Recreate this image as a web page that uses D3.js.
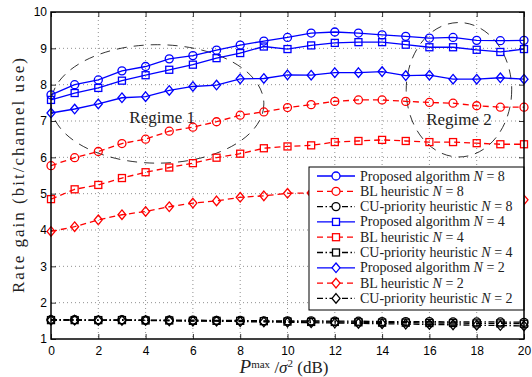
<!DOCTYPE html>
<html>
<head>
<meta charset="utf-8">
<title>Rate gain vs Pmax</title>
<style>
body { margin: 0; background: #fff; }
.axis text { font: 12px "Liberation Sans", Arial, sans-serif; fill: #000; }
.axis .domain { display: none; }
.lbl { font-family: "Liberation Serif", serif; fill: #222; }
</style>
</head>
<body>
<svg width="532" height="377"></svg>
<script src="https://d3js.org/d3.v7.min.js"></script>
<script>

// P^max / sigma^2 in dB
var snrDb = [0,1,2,3,4,5,6,7,8,9,10,11,12,13,14,15,16,17,18,19,20];

var propN8 = [7.72,8.00,8.13,8.38,8.50,8.71,8.80,8.95,9.09,9.20,9.30,9.42,9.45,9.42,9.37,9.33,9.28,9.30,9.22,9.21,9.22];
var propN4 = [7.58,7.77,7.91,8.11,8.26,8.41,8.55,8.73,8.87,9.05,8.98,9.08,9.15,9.17,9.17,9.10,9.03,9.03,8.96,8.90,8.98];
var propN2 = [7.22,7.33,7.47,7.64,7.67,7.84,7.95,7.99,8.16,8.17,8.27,8.26,8.33,8.33,8.36,8.25,8.26,8.15,8.15,8.19,8.15];

var blN8 = [5.77,5.99,6.16,6.38,6.50,6.72,6.83,6.98,7.16,7.25,7.37,7.45,7.54,7.58,7.58,7.54,7.51,7.49,7.42,7.38,7.38];
var blN4 = [4.85,5.12,5.24,5.43,5.59,5.72,5.84,5.99,6.10,6.25,6.30,6.33,6.42,6.45,6.48,6.45,6.42,6.42,6.39,6.36,6.36];
var blN2 = [3.96,4.09,4.28,4.42,4.51,4.64,4.74,4.80,4.90,4.94,5.01,5.02,5.00,4.98,4.95,4.93,4.90,4.88,4.86,4.85,4.83];

var cuN8 = [1.53,1.53,1.52,1.53,1.52,1.52,1.52,1.51,1.51,1.50,1.50,1.50,1.49,1.49,1.48,1.48,1.48,1.47,1.47,1.47,1.46];
var cuN4 = [1.52,1.52,1.52,1.52,1.51,1.51,1.50,1.50,1.50,1.49,1.48,1.47,1.47,1.46,1.45,1.45,1.44,1.44,1.43,1.43,1.42];
var cuN2 = [1.52,1.52,1.51,1.51,1.51,1.50,1.49,1.49,1.48,1.47,1.46,1.45,1.44,1.43,1.42,1.41,1.40,1.39,1.38,1.37,1.36];

var xTicks = [0,2,4,6,8,10,12,14,16,18,20];
var yTicks = [1,2,3,4,5,6,7,8,9,10];

var series = [
  {algo: "Proposed algorithm", n: 8, values: propN8, color: "#0000ff", dash: null, marker: "circle"},
  {algo: "BL heuristic", n: 8, values: blN8, color: "#ff0000", dash: "6,4", marker: "circle"},
  {algo: "CU-priority heuristic", n: 8, values: cuN8, color: "#000000", dash: "6,2.5,1.5,2.5", marker: "circle"},
  {algo: "Proposed algorithm", n: 4, values: propN4, color: "#0000ff", dash: null, marker: "square"},
  {algo: "BL heuristic", n: 4, values: blN4, color: "#ff0000", dash: "6,4", marker: "square"},
  {algo: "CU-priority heuristic", n: 4, values: cuN4, color: "#000000", dash: "6,2.5,1.5,2.5", marker: "square"},
  {algo: "Proposed algorithm", n: 2, values: propN2, color: "#0000ff", dash: null, marker: "diamond"},
  {algo: "BL heuristic", n: 2, values: blN2, color: "#ff0000", dash: "6,4", marker: "diamond"},
  {algo: "CU-priority heuristic", n: 2, values: cuN2, color: "#000000", dash: "6,2.5,1.5,2.5", marker: "diamond"}
];

// regimes, in data units: centre x, centre y, radius x, radius y
var regimes = [
  {label: "Regime 1", cx: 4.5, cy: 7.47, rx: 4.5, ry: 1.63, tx: 4.7, ty: 6.95},
  {label: "Regime 2", cx: 17.25, cy: 7.86, rx: 2.23, ry: 1.85, tx: 17.25, ty: 6.9}
];

var svg = d3.select("svg"),
    margin = {top: 12, right: 8, bottom: 38, left: 51},
    width = 532 - margin.left - margin.right,
    height = 377 - margin.top - margin.bottom,
    g = svg.append("g").attr("transform", "translate(" + margin.left + "," + margin.top + ")");

var x = d3.scaleLinear().domain([0, 20]).range([0, width]);
var y = d3.scaleLinear().domain([1, 10]).range([height, 0]);

// dotted grid
g.append("g").selectAll("line")
  .data(xTicks.slice(1, -1))
  .enter().append("line")
    .attr("x1", function(d) { return x(d); }).attr("x2", function(d) { return x(d); })
    .attr("y1", 0).attr("y2", height)
    .attr("stroke", "#444").attr("stroke-width", 0.6).attr("stroke-dasharray", "1,3");
g.append("g").selectAll("line")
  .data(yTicks.slice(1, -1))
  .enter().append("line")
    .attr("y1", function(d) { return y(d); }).attr("y2", function(d) { return y(d); })
    .attr("x1", 0).attr("x2", width)
    .attr("stroke", "#444").attr("stroke-width", 0.6).attr("stroke-dasharray", "1,3");

// axes, ticks pointing inwards
g.append("g")
  .attr("class", "axis")
  .attr("transform", "translate(0," + height + ")")
  .call(d3.axisBottom(x).tickValues(xTicks).tickSize(-5).tickPadding(7));
g.append("g")
  .attr("class", "axis")
  .call(d3.axisLeft(y).tickValues(yTicks).tickSize(-5).tickPadding(4));
g.append("g")
  .attr("class", "axis")
  .call(d3.axisTop(x).tickValues(xTicks).tickSize(-5).tickFormat(""));
g.append("g")
  .attr("class", "axis")
  .attr("transform", "translate(" + width + ",0)")
  .call(d3.axisRight(y).tickValues(yTicks).tickSize(-5).tickFormat(""));
g.selectAll(".axis .tick line").attr("stroke", "#000").attr("stroke-width", 0.8);

// regime ellipses
g.append("g").selectAll("ellipse")
  .data(regimes)
  .enter().append("ellipse")
    .attr("cx", function(d) { return x(d.cx); })
    .attr("cy", function(d) { return y(d.cy); })
    .attr("rx", function(d) { return x(d.rx) - x(0); })
    .attr("ry", function(d) { return y(0) - y(d.ry); })
    .attr("fill", "none").attr("stroke", "#000").attr("stroke-width", 0.8)
    .attr("stroke-dasharray", "10,7");

g.append("g").selectAll("text")
  .data(regimes)
  .enter().append("text")
    .attr("class", "lbl")
    .attr("x", function(d) { return x(d.tx); })
    .attr("y", function(d) { return y(d.ty); })
    .attr("text-anchor", "middle")
    .style("font-size", "17px")
    .text(function(d) { return d.label; });

function marker(sel, type) {
  if (type == "circle") {
    sel.append("circle").attr("r", 4);
  } else if (type == "square") {
    sel.append("rect").attr("x", -3.5).attr("y", -3.5).attr("width", 7).attr("height", 7);
  } else {
    sel.append("path").attr("d", "M0,-4.8L4,0L0,4.8L-4,0Z");
  }
}

var line = d3.line()
  .x(function(d, i) { return x(snrDb[i]); })
  .y(function(d) { return y(d); });

var sg = g.append("g").selectAll("g")
  .data(series)
  .enter().append("g");

sg.append("path")
  .attr("d", function(d) { return line(d.values); })
  .attr("fill", "none")
  .attr("stroke", function(d) { return d.color; })
  .attr("stroke-width", 1.3)
  .attr("stroke-dasharray", function(d) { return d.dash; });

sg.each(function(s) {
  d3.select(this).selectAll("g.m")
    .data(s.values)
    .enter().append("g")
      .attr("class", "m")
      .attr("transform", function(d, i) { return "translate(" + x(snrDb[i]) + "," + y(d) + ")"; })
      .attr("fill", "none")
      .attr("stroke", s.color)
      .attr("stroke-width", 1.3)
      .each(function() { marker(d3.select(this), s.marker); });
});

// legend
var lx = 258, ly = 155, lw = 215, lh = 143, rowH = 15.3;
var leg = g.append("g").attr("transform", "translate(" + lx + "," + ly + ")");
leg.append("rect")
  .attr("width", lw).attr("height", lh)
  .attr("fill", "#fff").attr("stroke", "#000").attr("stroke-width", 1);

var row = leg.selectAll("g.row")
  .data(series)
  .enter().append("g")
    .attr("class", "row")
    .attr("transform", function(d, i) { return "translate(0," + (9 + i * rowH) + ")"; });

row.append("line")
  .attr("x1", 8).attr("x2", 46)
  .attr("stroke", function(d) { return d.color; })
  .attr("stroke-width", 1.3)
  .attr("stroke-dasharray", function(d) { return d.dash; });

row.append("g")
  .attr("transform", "translate(27,0)")
  .attr("fill", "#fff")
  .attr("stroke", function(d) { return d.color; })
  .attr("stroke-width", 1.3)
  .each(function(d) { marker(d3.select(this), d.marker); });

var lt = row.append("text")
  .attr("class", "lbl")
  .attr("x", 51).attr("y", 4.5)
  .style("font-size", "14px");
lt.append("tspan").text(function(d) { return d.algo + " "; });
lt.append("tspan").style("font-style", "italic").text("N");
lt.append("tspan").text(function(d) { return " = " + d.n; });

// frame
g.append("rect")
  .attr("width", width).attr("height", height)
  .attr("fill", "none").attr("stroke", "#000").attr("stroke-width", 1.5);

// axis labels
svg.append("text")
  .attr("class", "lbl")
  .attr("transform", "translate(24," + (margin.top + height / 2) + ") rotate(-90)")
  .attr("text-anchor", "middle")
  .attr("textLength", 235)
  .attr("lengthAdjust", "spacing")
  .style("font-size", "17px")
  .text("Rate gain (bit/channel use)");

var xl = svg.append("text")
  .attr("class", "lbl")
  .attr("x", 284).attr("y", 373)
  .attr("text-anchor", "middle")
  .style("font-size", "17px");
xl.append("tspan").style("font-style", "italic").style("font-size", "19px").text("P");
xl.append("tspan").attr("dy", -5).style("font-size", "11px").text("max");
xl.append("tspan").attr("dy", 5).text(" /");
xl.append("tspan").style("font-style", "italic").text("σ");
xl.append("tspan").attr("dy", -6).style("font-size", "11px").text("2");
xl.append("tspan").attr("dy", 6).text(" (dB)");

</script>
</body>
</html>
